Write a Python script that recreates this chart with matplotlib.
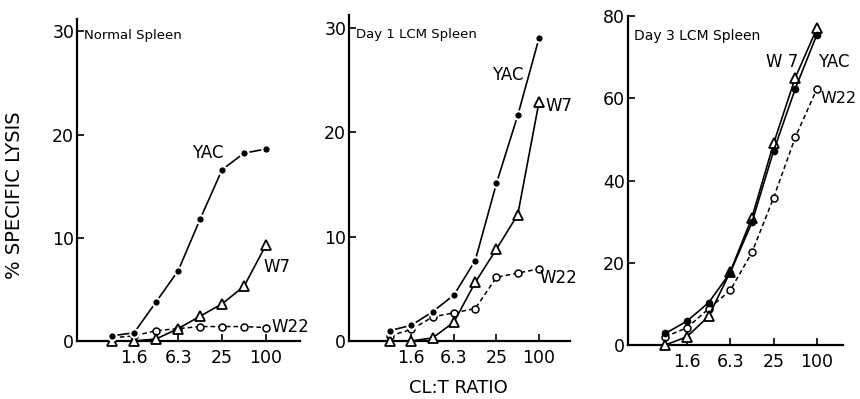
import matplotlib
matplotlib.use("Agg")
import matplotlib.pyplot as plt
from matplotlib.ticker import FixedLocator, FixedFormatter, NullLocator

# CL:T ratios (doubling dilutions)
ratios = [0.78, 1.56, 3.13, 6.25, 12.5, 25, 50, 100]
tick_pos = [1.56, 6.25, 25, 100]
tick_lab = ["1.6", "6.3", "25", "100"]

# % specific lysis
normal_yac = [0.5, 0.8, 3.8, 6.8, 11.8, 16.6, 18.2, 18.6]
normal_w7 = [0.0, 0.0, 0.2, 1.2, 2.4, 3.6, 5.3, 9.3]
normal_w22 = [0.3, 0.5, 1.0, 1.2, 1.4, 1.4, 1.4, 1.3]

day1_yac = [1.0, 1.5, 2.8, 4.4, 7.7, 15.1, 21.6, 29.0]
day1_w7 = [0.0, 0.0, 0.3, 1.8, 5.6, 8.8, 12.1, 22.9]
day1_w22 = [0.5, 1.1, 2.3, 2.7, 3.1, 6.1, 6.5, 6.9]

day3_yac = [2.8, 5.8, 10.3, 17.6, 29.8, 47.2, 62.3, 75.5]
day3_w7 = [0.0, 2.0, 7.0, 17.8, 31.0, 49.0, 65.0, 77.0]
day3_w22 = [2.0, 4.2, 8.8, 13.3, 22.5, 35.8, 50.5, 62.3]

fig = plt.figure(figsize=(8.6, 3.99), dpi=100)
plt.rcParams['font.family'] = 'DejaVu Sans'

panels = [
    # rect, xlim, ylim, yticks, title, title size, data
    ([0.0895, 0.1454, 0.2593, 0.807], (0.257, 292), (0, 31.2), [0, 10, 20, 30],
     "Normal Spleen", 9.5, normal_yac, normal_w7, normal_w22, True),
    ([0.4058, 0.1454, 0.257, 0.817], (0.205, 274), (0, 31.2), [0, 10, 20, 30],
     "Day 1 LCM Spleen", 9.5, day1_yac, day1_w7, day1_w22, True),
    ([0.7302, 0.1353, 0.25, 0.8246], (0.237, 230), (0, 80), [0, 20, 40, 60, 80],
     "Day 3 LCM Spleen", 10, day3_yac, day3_w7, day3_w22, False),
]

axes = []
for rect, xl, yl, yt, title, tsize, yac, w7, w22, gap in panels:
    ax = fig.add_axes(rect)
    ax.set_xscale("log", base=2)
    ax.set_xlim(*xl)
    ax.set_ylim(*yl)
    # W22: open circles, dashed
    ax.plot(ratios, w22, color="black", lw=1.1, dashes=(3, 2), marker="o",
            ms=5, mfc="white", mec="black", mew=1.1, clip_on=False, zorder=3)
    # W7: open triangles, solid
    ax.plot(ratios, w7, color="black", lw=1.2, marker="^", ms=7.5,
            mfc="white", mec="black", mew=1.3, clip_on=False, zorder=4)
    # YAC: filled circles
    if gap:
        ax.plot(ratios, yac, color="black", lw=1.2, marker="o", ms=6,
                mfc="black", mec="white", mew=1.5, clip_on=False, zorder=5)
    else:
        ax.plot(ratios, yac, color="black", lw=1.2, marker="o", ms=4.5,
                mfc="black", mec="black", clip_on=False, zorder=5)
    for s in ["top", "right"]:
        ax.spines[s].set_visible(False)
    for s in ["left", "bottom"]:
        ax.spines[s].set_linewidth(1.6)
    ax.xaxis.set_major_locator(FixedLocator(tick_pos))
    ax.xaxis.set_major_formatter(FixedFormatter(tick_lab))
    ax.xaxis.set_minor_locator(NullLocator())
    ax.set_yticks(yt)
    ax.tick_params(axis="both", direction="in", length=5, width=1.2,
                   labelsize=12.5)
    ax.tick_params(axis="x", pad=6)
    ax.tick_params(axis="y", pad=2)
    ax.text(0.03, 0.94 if title != "Normal Spleen" else 0.95, title,
            transform=ax.transAxes, fontsize=tsize, ha="left", va="center")
    axes.append(ax)

ax1, ax2, ax3 = axes
ax1.text(0.587, 0.584, "YAC", transform=ax1.transAxes, fontsize=12,
         ha="center", va="center")
ax1.text(0.897, 0.23, "W7", transform=ax1.transAxes, fontsize=12,
         ha="center", va="center")
ax1.text(0.874, 0.043, "W22", transform=ax1.transAxes, fontsize=12,
         ha="left", va="center", clip_on=False)

ax2.text(0.72, 0.816, "YAC", transform=ax2.transAxes, fontsize=12,
         ha="center", va="center")
ax2.text(0.887, 0.72, "W7", transform=ax2.transAxes, fontsize=12,
         ha="left", va="center")
ax2.text(0.864, 0.193, "W22", transform=ax2.transAxes, fontsize=12,
         ha="left", va="center")

ax3.text(0.716, 0.86, "W 7", transform=ax3.transAxes, fontsize=12,
         ha="center", va="center")
ax3.text(0.955, 0.86, "YAC", transform=ax3.transAxes, fontsize=12,
         ha="center", va="center", clip_on=False)
ax3.text(0.895, 0.75, "W22", transform=ax3.transAxes, fontsize=11.5,
         ha="left", va="center", clip_on=False)

fig.text(15 / 860, 1 - 195 / 399, "% SPECIFIC LYSIS", rotation=90,
         fontsize=14, ha="center", va="center")
fig.text(458 / 860, 1 - 388 / 399, "CL:T RATIO", fontsize=13,
         ha="center", va="center")

fig.savefig("out.png", dpi=100)
